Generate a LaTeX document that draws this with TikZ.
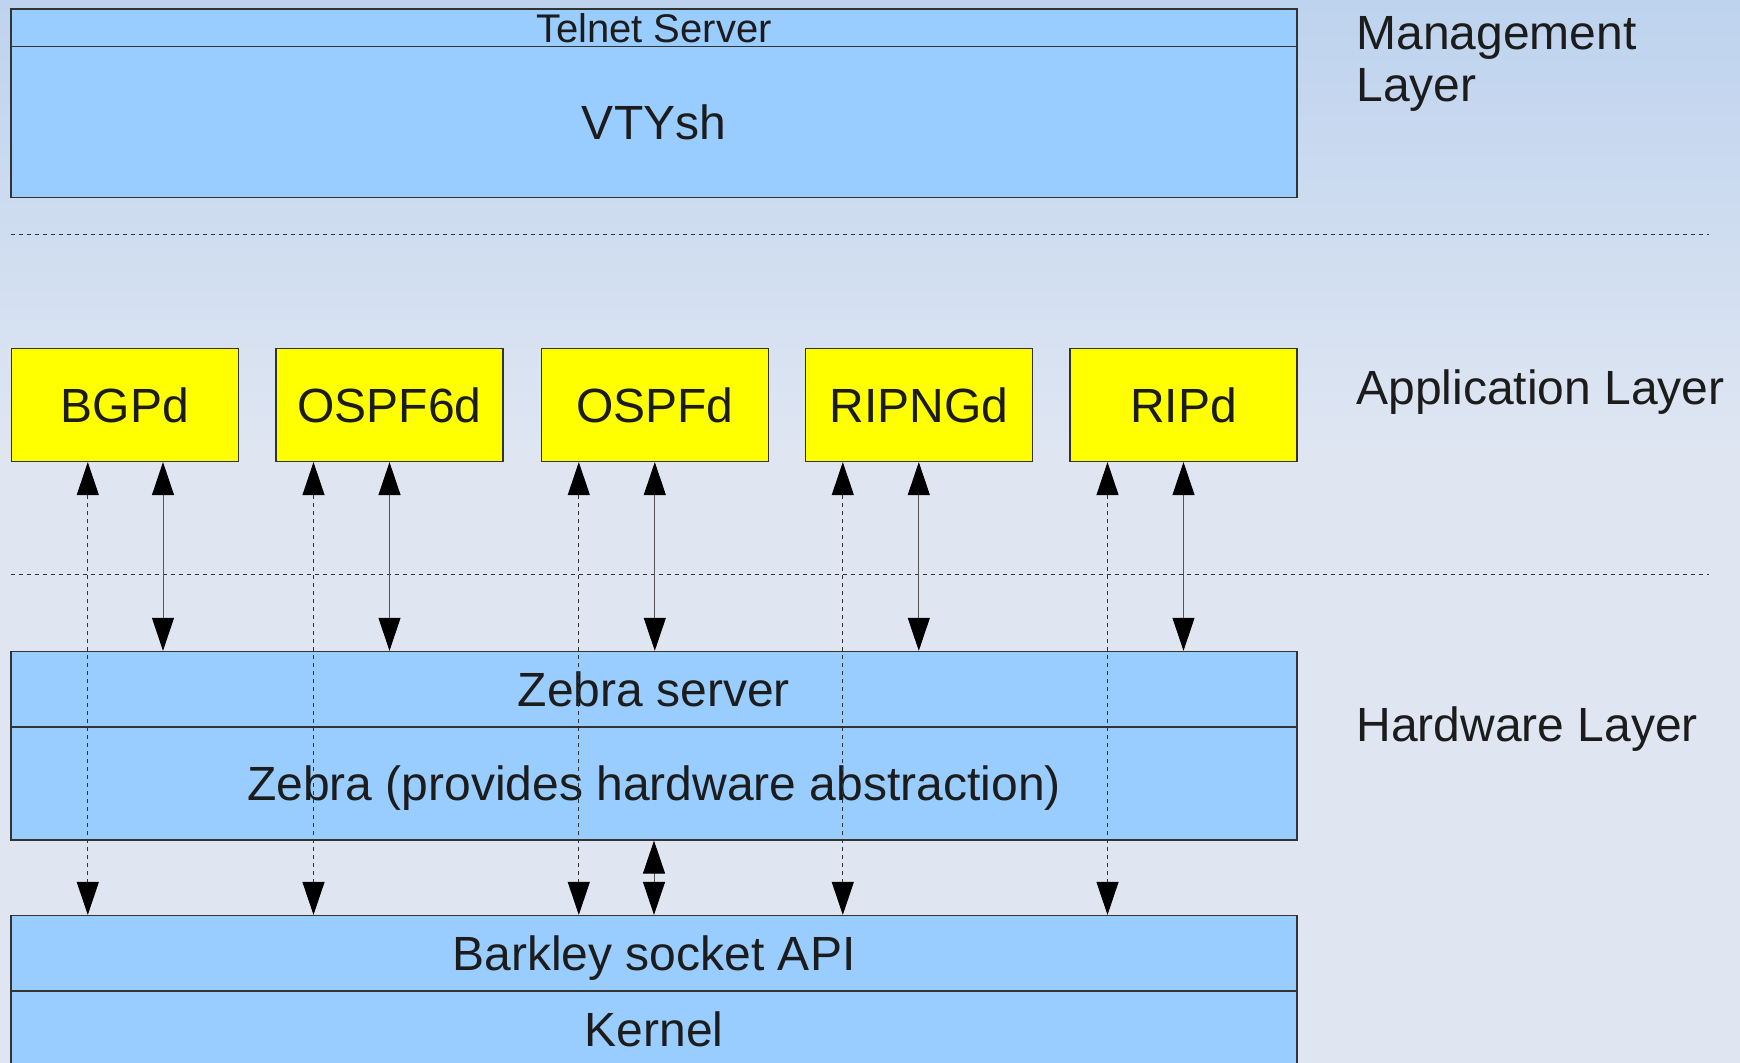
\documentclass[tikz,border=0pt]{standalone}
\usepackage{fontspec}
\setmainfont{Liberation Sans}
\usetikzlibrary{arrows.meta}

\definecolor{bgtop}{RGB}{190,211,238}
\definecolor{bgbot}{RGB}{223,230,242}
\definecolor{boxblue}{RGB}{153,204,255}
\definecolor{daemonyellow}{RGB}{255,255,0}
\definecolor{inkgray}{RGB}{28,28,28}
\definecolor{edgegray}{RGB}{51,51,51}
\definecolor{shaftgray}{RGB}{85,85,85}

\begin{document}
\begin{tikzpicture}[x=0.5pt,y=-0.5pt,
  layer/.style={draw=edgegray,fill=boxblue,line width=0.6pt,minimum width=643pt,inner sep=0pt,
    font=\fontsize{24}{26}\selectfont,text=inkgray,text height=17.2pt,text depth=0pt},
  daemon/.style={draw=edgegray,fill=daemonyellow,line width=0.6pt,minimum width=113.5pt,minimum height=56.5pt,
    inner sep=0pt,font=\fontsize{24}{26}\selectfont,text=inkgray,text height=17.2pt,text depth=0pt},
  caption/.style={anchor=base west,inner sep=0pt,font=\fontsize{24}{26.2}\selectfont,text=inkgray,align=left},
  duplex/.style={draw=shaftgray,line width=0.5pt,
    {Triangle[length=16.5pt,width=11pt,color=black]}-{Triangle[length=16.5pt,width=11pt,color=black]}},
  sockline/.style={duplex,draw=edgegray,dash pattern=on 2pt off 2pt},
  divider/.style={draw=edgegray,line width=0.5pt,dash pattern=on 2pt off 2pt}]

\shade[top color=bgtop,bottom color=bgbot] (0,0) rectangle (1740,450);
\fill[bgbot] (0,450) rectangle (1740,1063);
\useasboundingbox (0,0) rectangle (1740,1063);

\draw[divider] (11,235) -- (1709,235);
\draw[divider] (11,575) -- (1709,575);

% management layer
\node[layer,minimum height=18.8pt,font=\fontsize{20}{22}\selectfont,text height=14.3pt] (telnet) at (654,27.8) {Telnet Server};
\node[layer,minimum height=75.45pt] (vtysh) at (654,122.05) {VTYsh};

% application layer
\node[daemon] (bgpd) at (124.8,405) {BGPd};
\node[daemon] (ospf6d) at (389.5,405) {OSPF6d};
\node[daemon] (ospfd) at (654.8,405) {OSPFd};
\node[daemon] (ripngd) at (918.8,405) {RIPNGd};
\node[daemon] (ripd) at (1183.5,405) {RIPd};

% hardware layer
\node[layer,minimum height=37.8pt] (zserver) at (654,689.2) {Zebra server};
\node[layer,minimum height=56.5pt] (zebra) at (654,783.5) {Zebra (provides hardware abstraction)};
\node[layer,minimum height=37.8pt] (barkley) at (654,953.3) {Barkley socket API};
\node[layer,minimum height=38.3pt] (kernel) at (654,1029.3) {Kernel};

\node[caption] (mgmt) at (1356,101.7) {Management\\Layer};
\node[caption] (applayer) at (1356,405) {Application Layer};
\node[caption] (hwlayer) at (1356,741.7) {Hardware Layer};

\draw[duplex] ([xshift=19.1pt]bgpd.south) -- ([xshift=19.1pt]bgpd.south |- zserver.north);
\draw[duplex] (ospf6d.south) -- (ospf6d.south |- zserver.north);
\draw[duplex] (ospfd.south) -- (ospfd.south |- zserver.north);
\draw[duplex] (ripngd.south) -- (ripngd.south |- zserver.north);
\draw[duplex] (ripd.south) -- (ripd.south |- zserver.north);

\draw[sockline] ([xshift=-18.5pt]bgpd.south) -- ([xshift=-18.5pt]bgpd.south |- barkley.north);
\draw[sockline] ([xshift=-38pt]ospf6d.south) -- ([xshift=-38pt]ospf6d.south |- barkley.north);
\draw[sockline] ([xshift=-38pt]ospfd.south) -- ([xshift=-38pt]ospfd.south |- barkley.north);
\draw[sockline] ([xshift=-38pt]ripngd.south) -- ([xshift=-38pt]ripngd.south |- barkley.north);
\draw[sockline] ([xshift=-38pt]ripd.south) -- ([xshift=-38pt]ripd.south |- barkley.north);

\draw[duplex] (zebra.south) -- (barkley.north);

\end{tikzpicture}
\end{document}
